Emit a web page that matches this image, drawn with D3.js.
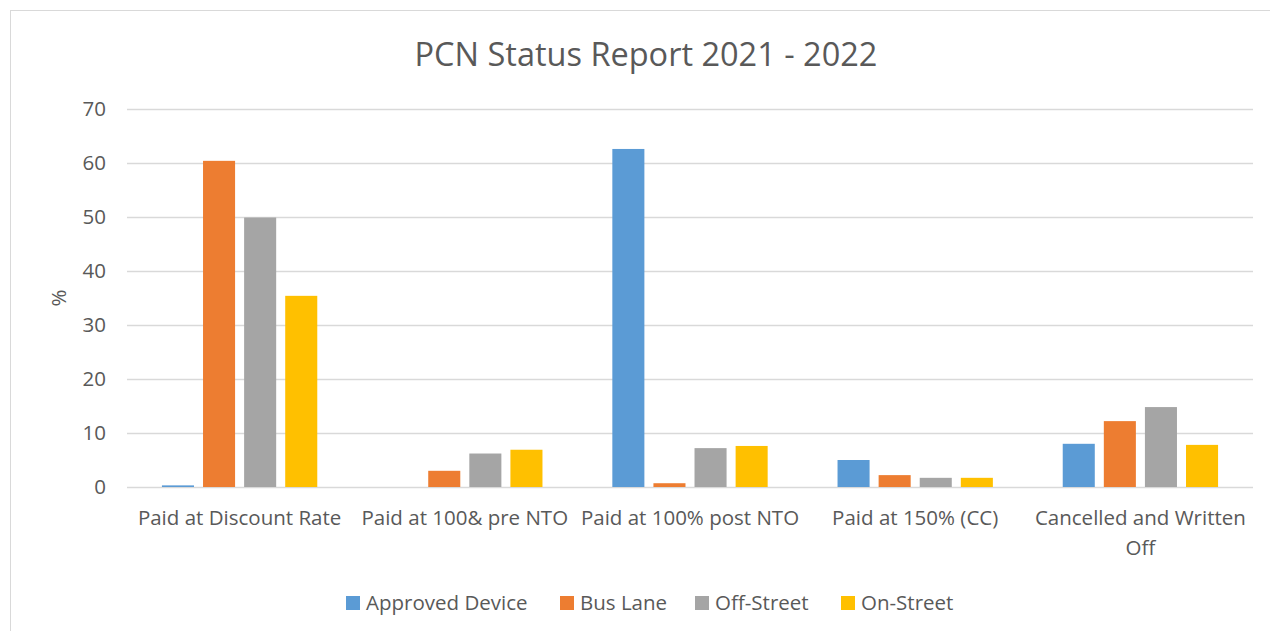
<!DOCTYPE html>
<html>
<head>
<meta charset="utf-8">
<script src="https://cdn.jsdelivr.net/npm/d3@7"></script>
<style>
  body { margin: 0; background: #fff; }
  text { font-family: "Open Sans", "Noto Sans", sans-serif; fill: #595959; }
</style>
</head>
<body>
<svg id="chart" width="1270" height="631"></svg>
<script>
// categories and series
const categories = ["Paid at Discount Rate", "Paid at 100& pre NTO", "Paid at 100% post NTO", "Paid at 150% (CC)", "Cancelled and Written Off"];
const seriesNames = ["Approved Device", "Bus Lane", "Off-Street", "On-Street"];
const approvedDevice = [0.3, 0, 62.6, 5.0, 8.0];
const busLane = [60.4, 3.0, 0.7, 2.2, 12.2];
const offStreet = [49.9, 6.2, 7.2, 1.7, 14.8];
const onStreet = [35.4, 6.9, 7.6, 1.7, 7.8];
const yTicks = [0, 10, 20, 30, 40, 50, 60, 70];
const colors = ["#5b9bd5", "#ed7d31", "#a5a5a5", "#ffc000"];

const allSeries = [approvedDevice, busLane, offStreet, onStreet];

const svg = d3.select("#chart");

// chart border
svg.append("rect")
    .attr("x", 10.5).attr("y", 10.5)
    .attr("width", 1270).attr("height", 640)
    .attr("fill", "none")
    .attr("stroke", "#d9d9d9");

const margin = { left: 127, right: 1253, top: 109, bottom: 487 };

const y = d3.scaleLinear()
    .domain([0, 70])
    .range([margin.bottom, margin.top]);

const x0 = d3.scaleBand()
    .domain(categories)
    .range([margin.left, margin.right])
    .paddingInner(0)
    .paddingOuter(0);

const x1 = d3.scaleBand()
    .domain(seriesNames)
    .range([0, x0.bandwidth()])
    .paddingInner(0.22)
    .paddingOuter(0.85);

// gridlines
svg.append("g")
    .selectAll("line")
    .data(yTicks)
    .join("line")
    .attr("x1", margin.left)
    .attr("x2", margin.right)
    .attr("y1", d => Math.round(y(d)) + 0.5)
    .attr("y2", d => Math.round(y(d)) + 0.5)
    .attr("stroke", "#d9d9d9")
    .attr("stroke-width", 1.5);

// y tick labels
svg.append("g")
    .selectAll("text")
    .data(yTicks)
    .join("text")
    .attr("x", 106)
    .attr("y", d => y(d))
    .attr("dy", "0.35em")
    .attr("text-anchor", "end")
    .style("font-size", "20.5px")
    .text(d => d);

// bars
const groups = svg.append("g")
    .selectAll("g")
    .data(allSeries)
    .join("g")
    .attr("fill", (d, i) => colors[i]);

groups.selectAll("rect")
    .data((d, i) => d.map((v, j) => ({ v: v, cat: categories[j], s: seriesNames[i] })))
    .join("rect")
    .attr("x", d => x0(d.cat) + x1(d.s))
    .attr("width", x1.bandwidth())
    .attr("y", d => y(d.v))
    .attr("height", d => y(0) - y(d.v));

// category labels
const catLabels = svg.append("g")
    .selectAll("text")
    .data(categories)
    .join("text")
    .attr("x", d => x0(d) + x0.bandwidth() / 2)
    .attr("y", 525)
    .attr("text-anchor", "middle")
    .style("font-size", "20.5px");

catLabels.each(function(d) {
    const t = d3.select(this);
    if (d === "Cancelled and Written Off") {
        t.append("tspan").attr("x", t.attr("x")).text("Cancelled and Written");
        t.append("tspan").attr("x", t.attr("x")).attr("dy", 30).text("Off");
    } else {
        t.text(d);
    }
});

// title
svg.append("text")
    .attr("x", 646)
    .attr("y", 66)
    .attr("text-anchor", "middle")
    .style("font-size", "32.5px")
    .text("PCN Status Report 2021 - 2022");

// y axis label
svg.append("text")
    .attr("transform", "translate(66, 298) rotate(-90)")
    .attr("text-anchor", "middle")
    .style("font-size", "20.5px")
    .text("%");

// legend
const legendX = [346, 560, 695, 841];
const legend = svg.append("g")
    .selectAll("g")
    .data(seriesNames)
    .join("g")
    .attr("transform", (d, i) => `translate(${legendX[i]}, 596)`);

legend.append("rect")
    .attr("width", 14).attr("height", 14)
    .attr("fill", (d, i) => colors[i]);

legend.append("text")
    .attr("x", 20)
    .attr("y", 7)
    .attr("dy", "0.35em")
    .style("font-size", "20.5px")
    .text(d => d);
</script>
</body>
</html>
